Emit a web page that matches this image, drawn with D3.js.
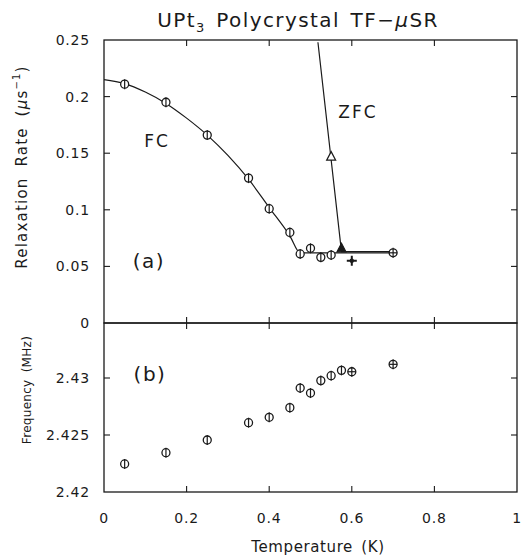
<!DOCTYPE html>
<html><head><meta charset="utf-8">
<script src="https://cdn.jsdelivr.net/npm/d3@7"></script>
<style>body{margin:0;background:#fff;} text{font-family:"DejaVu Sans",sans-serif;fill:#1a1a1a;}</style>
</head><body><svg id="c" width="525" height="560"></svg>
<script>
// ---- data ----
const fcT    = [0.05, 0.15, 0.25, 0.35, 0.40, 0.45, 0.475, 0.50, 0.525, 0.55, 0.70];
const fcRate = [0.211, 0.195, 0.166, 0.128, 0.101, 0.080, 0.061, 0.066, 0.058, 0.060, 0.062];
const zfcT    = [0.55, 0.575];
const zfcRate = [0.147, 0.066];
const plusT    = [0.60];
const plusRate = [0.055];
const fitT    = [0, 0.05, 0.10, 0.15, 0.20, 0.25, 0.30, 0.35, 0.40, 0.45, 0.475, 0.70];
const fitRate = [0.215, 0.2115, 0.204, 0.194, 0.181, 0.166, 0.148, 0.127, 0.102, 0.077, 0.062, 0.062];
const zfcLineT    = [0.518, 0.575, 0.70];
const zfcLineRate = [0.248, 0.063, 0.063];
const freqT = [0.05, 0.15, 0.25, 0.35, 0.40, 0.45, 0.475, 0.50, 0.525, 0.55, 0.575, 0.60, 0.70];
const freq  = [2.42246, 2.42345, 2.42456, 2.42608, 2.42655, 2.4274, 2.42912, 2.42868, 2.42977, 2.4302, 2.43067, 2.43055, 2.4312];
const freqCross = [false,false,false,false,false,false,false,false,false,false,false,true,true];
const xTicks = [0, 0.2, 0.4, 0.6, 0.8, 1];
const xTickLabels = ["0", "0.2", "0.4", "0.6", "0.8", "1"];
const rateTicks = [0, 0.05, 0.1, 0.15, 0.2, 0.25];
const rateTickLabels = ["0", "0.05", "0.1", "0.15", "0.2", "0.25"];
const freqTicks = [2.42, 2.425, 2.43];
const freqTickLabels = ["2.42", "2.425", "2.43"];

// ---- layout ----
const svg = d3.select("#c");
const L = 104, R = 517, T1 = 40, B1 = 323, B2 = 492;
const x = d3.scaleLinear().domain([0, 1]).range([L, R]);
const y1 = d3.scaleLinear().domain([0, 0.25]).range([B1, T1]);
const y2 = d3.scaleLinear().domain([2.42, 2.42 + 0.005 * (B2 - B1) / 57]).range([B2, B1]);
const ink = "#1a1a1a";
const tl = 6;

function frame(yScale, top, bottom, yt) {
  svg.append("rect").attr("x", L).attr("y", top).attr("width", R - L).attr("height", bottom - top)
    .attr("fill", "none").attr("stroke", ink).attr("stroke-width", 1.3);
  const g = svg.append("g").attr("stroke", ink).attr("stroke-width", 1.1);
  xTicks.slice(1, -1).forEach(t => {
    g.append("line").attr("x1", x(t)).attr("x2", x(t)).attr("y1", top).attr("y2", top + tl);
    g.append("line").attr("x1", x(t)).attr("x2", x(t)).attr("y1", bottom).attr("y2", bottom - tl);
  });
  yt.forEach(t => {
    const yy = yScale(t);
    if (Math.abs(yy - top) < 1 || Math.abs(yy - bottom) < 1) return;
    g.append("line").attr("x1", L).attr("x2", L + tl).attr("y1", yy).attr("y2", yy);
    g.append("line").attr("x1", R).attr("x2", R - tl).attr("y1", yy).attr("y2", yy);
  });
}
frame(y1, T1, B1, rateTicks);
frame(y2, B1, B2, freqTicks);

const tickStyle = s => s.attr("font-size", 14).attr("letter-spacing", 0.8);
// tick labels
rateTicks.forEach((t, i) => svg.append("text").attr("x", 90).attr("y", y1(t)).attr("dy", "0.36em")
  .attr("text-anchor", "end").call(tickStyle).text(rateTickLabels[i]));
freqTicks.forEach((t, i) => svg.append("text").attr("x", 90).attr("y", y2(t)).attr("dy", "0.36em")
  .attr("text-anchor", "end").call(tickStyle).text(freqTickLabels[i]));
xTicks.forEach((t, i) => svg.append("text").attr("x", x(t)).attr("y", 518).attr("dy", "0.36em")
  .attr("text-anchor", "middle").call(tickStyle).text(xTickLabels[i]));

// axis titles
svg.append("text").attr("x", 318).attr("y", 547).attr("dy", "0.36em").attr("text-anchor", "middle")
  .attr("font-size", 15).attr("letter-spacing", 0.6).attr("word-spacing", 3).text("Temperature (K)");
const yl = svg.append("text").attr("transform", "translate(27,167) rotate(-90)").attr("text-anchor", "middle")
  .attr("font-size", 15).attr("letter-spacing", 1.2).attr("word-spacing", 5);
yl.append("tspan").text("Relaxation Rate (");
yl.append("tspan").attr("font-style", "italic").text("μ");
yl.append("tspan").text("s");
yl.append("tspan").attr("dy", -7).attr("font-size", 10).text("−1");
yl.append("tspan").attr("dy", 7).text(")");
svg.append("text").attr("transform", "translate(31,390) rotate(-90)").attr("text-anchor", "middle")
  .attr("font-size", 12).attr("letter-spacing", 0.3).attr("word-spacing", 3).text("Frequency (MHz)");

// title
const tt = svg.append("text").attr("x", 298).attr("y", 27).attr("text-anchor", "middle")
  .attr("font-size", 20).attr("letter-spacing", 1.4).attr("word-spacing", 3);
tt.append("tspan").text("UPt");
tt.append("tspan").attr("dy", 5).attr("font-size", 13).text("3");
tt.append("tspan").attr("dy", -5).text(" Polycrystal TF−");
tt.append("tspan").attr("font-style", "italic").text("μ");
tt.append("tspan").text("SR");

// panel labels
svg.append("text").attr("x", 149).attr("y", 261).attr("dy", "0.36em").attr("text-anchor", "middle").attr("font-size", 20).attr("letter-spacing", 1.5).text("(a)");
svg.append("text").attr("x", 150).attr("y", 374).attr("dy", "0.36em").attr("text-anchor", "middle").attr("font-size", 20).attr("letter-spacing", 1.5).text("(b)");
svg.append("text").attr("x", 157).attr("y", 141).attr("dy", "0.36em").attr("text-anchor", "middle").attr("font-size", 17).attr("letter-spacing", 2).text("FC");
svg.append("text").attr("x", 358).attr("y", 112).attr("dy", "0.36em").attr("text-anchor", "middle").attr("font-size", 17).attr("letter-spacing", 2).text("ZFC");

// lines
const line1 = d3.line().x(d => x(d[0])).y(d => y1(d[1]));
svg.append("path").datum(fitT.map((t, i) => [t, fitRate[i]]))
  .attr("d", line1.curve(d3.curveMonotoneX)).attr("fill", "none").attr("stroke", ink).attr("stroke-width", 1.2);
svg.append("path").datum(zfcLineT.map((t, i) => [t, zfcLineRate[i]]))
  .attr("d", d3.line().x(d => x(d[0])).y(d => y1(d[1]))).attr("fill", "none").attr("stroke", ink).attr("stroke-width", 1.2);

// markers
function phi(g, cx, cy, cross) {
  g.append("circle").attr("cx", cx).attr("cy", cy).attr("r", 4).attr("fill", "#fff").attr("stroke", ink).attr("stroke-width", 1.3);
  g.append("line").attr("x1", cx).attr("x2", cx).attr("y1", cy - 5).attr("y2", cy + 5).attr("stroke", ink).attr("stroke-width", 1.2);
  if (cross) g.append("line").attr("x1", cx - 4).attr("x2", cx + 4).attr("y1", cy).attr("y2", cy).attr("stroke", ink).attr("stroke-width", 1.2);
}
const gm = svg.append("g");
fcT.forEach((t, i) => phi(gm, x(t), y1(fcRate[i]), t === 0.70));
zfcT.forEach((t, i) => {
  const cx = x(t), cy = y1(zfcRate[i]);
  gm.append("path").attr("d", `M${cx},${cy - 5}L${cx + 4.5},${cy + 3.5}L${cx - 4.5},${cy + 3.5}Z`)
    .attr("fill", i === 1 ? ink : "#fff").attr("stroke", ink).attr("stroke-width", 1.2);
});
plusT.forEach((t, i) => {
  const cx = x(t), cy = y1(plusRate[i]);
  gm.append("path").attr("d", `M${cx - 5},${cy}L${cx + 5},${cy}M${cx},${cy - 5}L${cx},${cy + 5}`)
    .attr("stroke", ink).attr("stroke-width", 2);
  gm.append("circle").attr("cx", cx).attr("cy", cy).attr("r", 2.2).attr("fill", ink);
});
freqT.forEach((t, i) => phi(gm, x(t), y2(freq[i]), freqCross[i]));
</script></body></html>
